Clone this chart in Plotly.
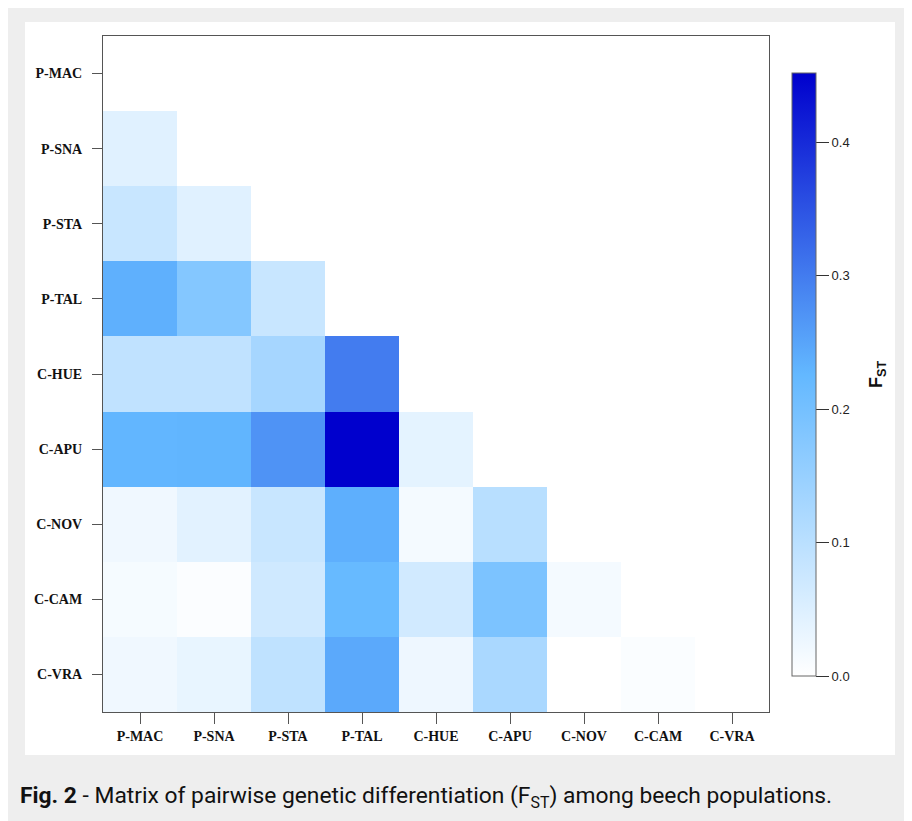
import plotly.graph_objects as go

populations = ["P-MAC", "P-SNA", "P-STA", "P-TAL", "C-HUE", "C-APU", "C-NOV", "C-CAM", "C-VRA"]

# Lower-triangle pairwise FST values (row population vs earlier columns)
fst_p_sna = [0.045]
fst_p_sta = [0.080, 0.045]
fst_p_tal = [0.236, 0.178, 0.080]
fst_c_hue = [0.091, 0.091, 0.129, 0.300]
fst_c_apu = [0.228, 0.230, 0.272, 0.452, 0.039]
fst_c_nov = [0.022, 0.042, 0.080, 0.237, 0.016, 0.103]
fst_c_cam = [0.014, 0.006, 0.070, 0.220, 0.066, 0.190, 0.016]
fst_c_vra = [0.022, 0.033, 0.093, 0.245, 0.025, 0.123, 0.000, 0.007]

lower_rows = [[], fst_p_sna, fst_p_sta, fst_p_tal, fst_c_hue, fst_c_apu,
              fst_c_nov, fst_c_cam, fst_c_vra]

n = len(populations)
z = []
for i, vals in enumerate(lower_rows):
    z.append(list(vals) + [None] * (n - len(vals)))

colorbar_ticks = [0.0, 0.1, 0.2, 0.3, 0.4]
colorbar_ticktext = ["0.0", "0.1", "0.2", "0.3", "0.4"]

# figure-local pixel layout (page is offset by the 8px body margin)
W, H = 912, 821
L, T = 95, 28
RIGHT, BOTTOM = 761, 704
pw, ph = RIGHT - L, BOTTOM - T
R, B = W - RIGHT, H - BOTTOM

def px_x(x):
    return (x - L) / pw

def px_y(y):
    return (BOTTOM - y) / ph

fig = go.Figure(go.Heatmap(
    z=z, x=populations, y=populations,
    zmin=0, zmax=0.452,
    colorscale=[[0, "#FFFFFF"], [0.5, "#63B8FF"], [1, "#0000CD"]],
    hoverongaps=False,
    colorbar=dict(
        xref="paper", x=px_x(784), xanchor="left",
        yref="paper", y=px_y(668), yanchor="bottom",
        lenmode="fraction", len=603 / ph,
        thicknessmode="pixels", thickness=24,
        xpad=0, ypad=0,
        outlinewidth=1, outlinecolor="#666666",
        tickvals=colorbar_ticks, ticktext=colorbar_ticktext,
        ticks="outside", ticklen=13, tickcolor="#333333",
        tickfont=dict(family="Liberation Sans", size=13, color="#222222"),
    ),
))

fig.update_layout(
    width=W, height=H,
    margin=dict(l=L, r=R, t=T, b=B, autoexpand=False),
    paper_bgcolor="#EEEEEE",
    plot_bgcolor="#FFFFFF",
    showlegend=False,
    shapes=[dict(type="rect", xref="paper", yref="paper",
                 x0=px_x(17), x1=px_x(887), y0=px_y(747), y1=px_y(14),
                 fillcolor="#FFFFFF", line=dict(width=0), layer="below")],
    annotations=[
        dict(
            xref="paper", yref="paper", x=px_x(10), y=px_y(789),
            xanchor="left", yanchor="middle", showarrow=False,
            text="<b>Fig. 2</b> - Matrix of pairwise genetic differentiation (F<sub>ST</sub>) among beech populations.",
            font=dict(family="Roboto", size=22.8, color="#111111"),
        ),
        dict(
            xref="paper", yref="paper", x=px_x(869), y=px_y(366),
            xanchor="center", yanchor="middle", showarrow=False,
            textangle=-90,
            text="<b>F<sub>ST</sub></b>",
            font=dict(family="Liberation Sans", size=18, color="#111111"),
        ),
    ],
)

fig.update_xaxes(
    type="category", showgrid=False, zeroline=False,
    showline=True, linecolor="#555555", linewidth=1, mirror=True,
    ticks="outside", ticklen=11, tickcolor="#555555",
    tickfont=dict(family="Liberation Serif", size=14, color="#111111"),
    tickprefix="<b>", ticksuffix="</b>",
)
fig.update_yaxes(
    type="category", autorange="reversed", showgrid=False, zeroline=False,
    showline=True, linecolor="#555555", linewidth=1, mirror=True,
    ticks="outside", ticklen=10, tickcolor="#555555",
    tickfont=dict(family="Liberation Serif", size=14, color="#111111"),
    tickprefix="<b>", ticksuffix="</b>",
    ticklabelstandoff=7,
)

fig.write_html("out.html")
